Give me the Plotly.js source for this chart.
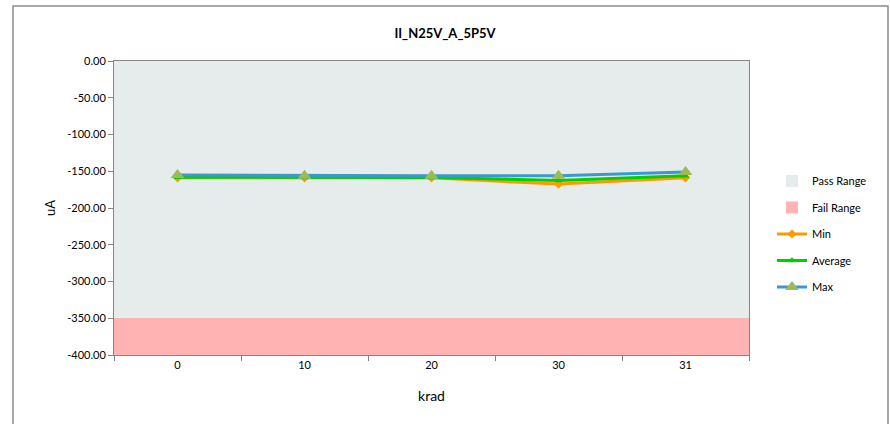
<!DOCTYPE html>
<html>
<head>
<meta charset="utf-8">
<script src="https://cdn.plot.ly/plotly-3.0.1.min.js"></script>
<style>html,body{margin:0;padding:0;background:#fff;}#chart{width:890px;height:424px;}</style>
</head>
<body>
<div id="chart"></div>
<script>
const categories = ["0", "10", "20", "30", "31"];
const minValues = [-159, -159, -159, -167.5, -159];
const avgValues = [-158, -158.5, -158.5, -162.5, -156];
const maxValues = [-155, -156, -156, -156, -151];
const passLimit = -350;
const axisTop = 0;
const axisBottom = -400;
const yTickVals = [0, -50, -100, -150, -200, -250, -300, -350, -400];
const yTickText = yTickVals.map(v => v.toFixed(2));

const font = "Lato, 'Liberation Sans', sans-serif";

const traces = [
  {type: 'bar', name: 'Pass Range', x: categories, y: categories.map(() => passLimit - axisTop), base: categories.map(() => axisTop),
   width: 1, marker: {color: '#E5ECEB', line: {width: 0}}, legendgroup: 'a', hoverinfo: 'skip'},
  {type: 'bar', name: 'Fail Range', x: categories, y: categories.map(() => axisBottom - passLimit), base: categories.map(() => passLimit),
   width: 1, marker: {color: '#FFB3B3', line: {width: 0}}, legendgroup: 'b', hoverinfo: 'skip'},
  {type: 'scatter', mode: 'lines+markers', name: 'Min', x: categories, y: minValues, legendgroup: 'c',
   line: {color: '#FF9900', width: 3}, marker: {symbol: 'diamond', size: 7, color: '#FF9900'}},
  {type: 'scatter', mode: 'lines+markers', name: 'Average', x: categories, y: avgValues, legendgroup: 'd',
   line: {color: '#00D000', width: 3}, marker: {symbol: 'triangle-up', size: 7, color: '#00D000'}},
  {type: 'scatter', mode: 'lines+markers', name: 'Max', x: categories, y: maxValues, legendgroup: 'e',
   line: {color: '#3A9AD0', width: 3}, marker: {symbol: 'triangle-up', size: 12, color: '#9BBB59'}}
];

const pw = 635, ph = 294, ml = 114, mt = 61;
const layout = {
  width: 890, height: 424,
  margin: {l: ml, r: 890 - ml - pw, t: mt, b: 424 - mt - ph, pad: 0},
  paper_bgcolor: '#ffffff', plot_bgcolor: '#E5ECEB',
  barmode: 'overlay', bargap: 0,
  font: {family: font, size: 11, color: '#000'},
  title: {text: '<b>II_N25V_A_5P5V</b>', x: 0.5, xref: 'container', y: 1 - 33/424, yref: 'container', yanchor: 'middle',
          font: {family: font, size: 13, color: '#000'}},
  xaxis: {type: 'category', range: [-0.5, 4.5], showgrid: false, zeroline: false,
          showline: true, linecolor: '#868686', linewidth: 1, mirror: true,
          ticks: 'outside', ticklen: 5, tickcolor: '#868686', tickson: 'boundaries',
          tickfont: {family: font, size: 11}, 
          title: {text: 'krad', font: {family: font, size: 14}, standoff: 20}},
  yaxis: {range: [axisBottom, axisTop], tickvals: yTickVals, ticktext: yTickText, showgrid: false, zeroline: false,
          showline: true, linecolor: '#868686', linewidth: 1, mirror: true,
          ticks: 'outside', ticklen: 5, tickcolor: '#868686',
          tickfont: {family: font, size: 11},
          title: {text: 'uA', font: {family: font, size: 13}, standoff: 8}},
  legend: {x: 772/890, xref: 'container', y: 1 - 166.5/424, yref: 'container', xanchor: 'left', yanchor: 'top',
           font: {family: font, size: 11}, tracegroupgap: 7.5, itemwidth: 30, bgcolor: 'rgba(0,0,0,0)',
           traceorder: 'grouped'},
  showlegend: true,
  shapes: [{type: 'rect', xref: 'paper', yref: 'paper', layer: 'below',
            x0: (13 - ml)/pw, x1: (888 - ml)/pw, y0: (mt + ph - 440)/ph, y1: (mt + ph - 6)/ph,
            line: {color: '#8C8C8C', width: 1.5}, fillcolor: 'rgba(0,0,0,0)'}]
};

Plotly.newPlot('chart', traces, layout, {displayModeBar: false, staticPlot: true});
</script>
</body>
</html>
